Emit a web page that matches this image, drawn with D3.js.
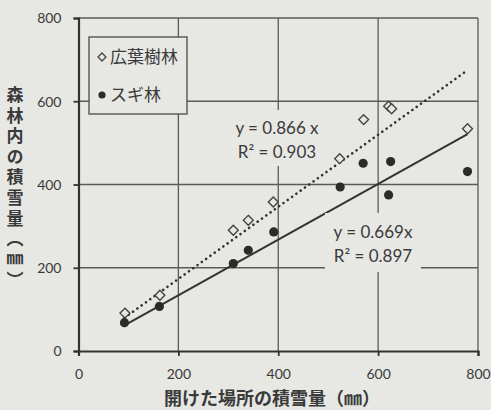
<!DOCTYPE html>
<html>
<head>
<meta charset="utf-8">
<script src="https://cdn.jsdelivr.net/npm/d3@7"></script>
<style>
  html, body { margin: 0; padding: 0; background: #e8e8e5; }
  svg { display: block; }
  text { font-family: Lato, "Noto Sans CJK JP", sans-serif; fill: #3a3a3a; }
  .jp { font-family: "Noto Sans CJK JP", sans-serif; }
  .vert { writing-mode: vertical-rl; text-orientation: upright; }
</style>
</head>
<body>
<svg id="chart" width="491" height="410"></svg>
<script>
// Snow accumulation: open site (x) vs. inside forest (y), in mm
const broadleafX = [93, 163, 310, 340, 390, 523, 571, 621, 627, 779];
const broadleafY = [91, 134, 290, 314, 358, 462, 556, 588, 582, 534];
const sugiX = [92, 162, 310, 340, 391, 524, 570, 625, 621, 779];
const sugiY = [68, 107, 210, 242, 286, 394, 451, 455, 375, 431];

const seriesNames = ["広葉樹林", "スギ林"];
const slopes = [0.866, 0.669];
const fitLabels = [["y = 0.866 x", "R² = 0.903"], ["y = 0.669x", "R² = 0.897"]];
const xTicks = [0, 200, 400, 600, 800];
const yTicks = [0, 200, 400, 600, 800];
const xTitle = "開けた場所の積雪量（㎜）";
const yTitle = "森林内の積雪量（㎜）";

const svg = d3.select("#chart");
const margin = { left: 78.5, right: 13, top: 18, bottom: 59 };
const W = 491, H = 410;
const x = d3.scaleLinear().domain([0, 800]).range([margin.left, W - margin.right]);
const y = d3.scaleLinear().domain([0, 800]).range([H - margin.bottom, margin.top]);

const bg = "#e7e7e4";
svg.append("rect").attr("width", W).attr("height", H).attr("fill", bg);

// gridlines and frame
const grid = svg.append("g").attr("stroke", "#5a5a5a").attr("stroke-width", 1.3);
xTicks.slice(1).forEach(t => {
  grid.append("line").attr("x1", x(t)).attr("x2", x(t)).attr("y1", y(0)).attr("y2", y(800));
});
yTicks.slice(1).forEach(t => {
  grid.append("line").attr("x1", x(0)).attr("x2", x(800)).attr("y1", y(t)).attr("y2", y(t));
});

// axes
const xAxis = svg.append("g").attr("transform", `translate(0,${y(0)})`)
  .call(d3.axisBottom(x).tickValues(xTicks).tickSize(5).tickPadding(13));
const yAxis = svg.append("g").attr("transform", `translate(${x(0)},0)`)
  .call(d3.axisLeft(y).tickValues(yTicks).tickSize(5).tickPadding(12));
[xAxis, yAxis].forEach(a => {
  a.select(".domain").attr("stroke", "#333").attr("stroke-width", 2.2);
  a.selectAll(".tick line").attr("stroke", "#333").attr("stroke-width", 1.8);
  a.selectAll(".tick text").attr("font-size", 14).attr("fill", "#3c3c3c")
    .style("font-family", "Lato, sans-serif");
});
yAxis.selectAll(".tick text").attr("dy", "0.35em");

// trend lines (through origin), drawn over the data range
const xMin = d3.min(broadleafX.concat(sugiX));
const xMax = d3.max(broadleafX.concat(sugiX));
const lineGen = d3.line().x(d => x(d[0])).y(d => y(d[1]));
svg.append("path")
  .attr("d", lineGen([[xMin, slopes[0] * xMin], [xMax, slopes[0] * xMax]]))
  .attr("stroke", "#333").attr("stroke-width", 2.6).attr("fill", "none")
  .attr("stroke-dasharray", "0.1 5.2").attr("stroke-linecap", "round");
svg.append("path")
  .attr("d", lineGen([[xMin, slopes[1] * xMin], [xMax, slopes[1] * xMax]]))
  .attr("stroke", "#333").attr("stroke-width", 2).attr("fill", "none");

// markers
const diamond = d3.symbol().type(d3.symbolDiamond2).size(62);
svg.append("g").selectAll("path").data(d3.zip(broadleafX, broadleafY)).join("path")
  .attr("d", diamond)
  .attr("transform", d => `translate(${x(d[0])},${y(d[1])})`)
  .attr("fill", bg).attr("stroke", "#444").attr("stroke-width", 1.4);
svg.append("g").selectAll("circle").data(d3.zip(sugiX, sugiY)).join("circle")
  .attr("cx", d => x(d[0])).attr("cy", d => y(d[1])).attr("r", 4.6)
  .attr("fill", "#2b2b2b");

// regression labels with backing boxes
const labelPos = [{ cx: 277, ty: 128 }, { cx: 373, ty: 232 }];
const boxes = [{ x0: 226, x1: 330, y0: 110, y1: 166 }, { x0: 325, x1: 421, y0: 213, y1: 272 }];
labelPos.forEach((p, i) => {
  const b = boxes[i];
  svg.append("rect").attr("x", b.x0).attr("y", b.y0).attr("width", b.x1 - b.x0)
    .attr("height", b.y1 - b.y0).attr("fill", bg);
  fitLabels[i].forEach((t, j) => {
    svg.append("text").attr("x", p.cx).attr("y", p.ty + j * 24).attr("dy", "0.35em")
      .attr("text-anchor", "middle").attr("font-size", 17).attr("fill", "#333")
      .style("font-family", "Lato, sans-serif").text(t);
  });
});

// legend
const lg = svg.append("g");
lg.append("rect").attr("x", 89).attr("y", 37).attr("width", 98).attr("height", 77)
  .attr("fill", bg).attr("stroke", "#555").attr("stroke-width", 1.4);
lg.append("path").attr("d", d3.symbol().type(d3.symbolDiamond2).size(40))
  .attr("transform", "translate(102,57)").attr("fill", bg).attr("stroke", "#444").attr("stroke-width", 1.3);
lg.append("circle").attr("cx", 102).attr("cy", 95).attr("r", 3.6).attr("fill", "#2b2b2b");
seriesNames.forEach((n, i) => {
  lg.append("text").attr("class", "jp").attr("x", 110).attr("y", 57 + i * 38).attr("dy", "0.35em")
    .attr("font-size", 17).attr("fill", "#333").text(n);
});

// axis titles
svg.append("text").attr("class", "jp").attr("x", 272).attr("y", 399)
  .attr("dy", "0.35em").attr("text-anchor", "middle").attr("font-size", 18)
  .attr("font-weight", "bold").attr("fill", "#3a3a3a").text(xTitle);
svg.append("text").attr("class", "jp vert").attr("x", 15).attr("y", 86)
  .attr("font-size", 17).attr("font-weight", "bold").attr("fill", "#3a3a3a")
  .style("letter-spacing", "3.6px").text(yTitle);
</script>
</body>
</html>
